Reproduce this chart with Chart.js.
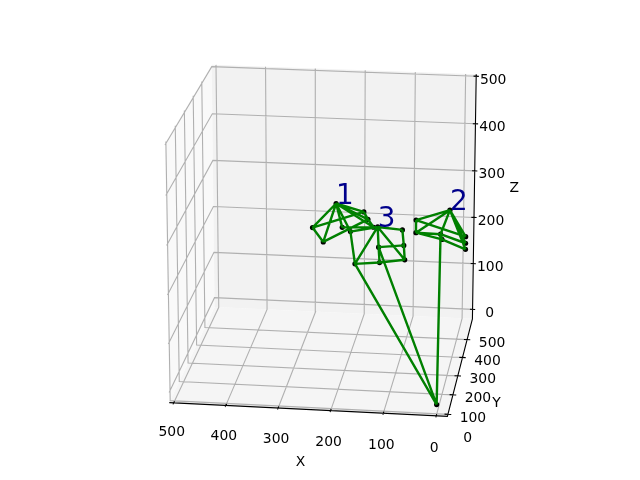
<!DOCTYPE html>
<html>
<head>
<meta charset="utf-8">
<script src="https://cdn.jsdelivr.net/npm/chart.js@4"></script>
<style>
html, body { margin: 0; padding: 0; background: #fff; }
canvas { display: block; }
</style>
</head>
<body>
<canvas id="chart" width="640" height="480"></canvas>
<script>
// Points of the three structures, last one is the common tip
const pointX = [224, 270, 249, 212, 170, 162, 151,
                143, 196, 187, 139, 90, 92, 95, 141,
                19, 86, 86, 37, 34, -13, -13, -13,
                0];
const pointY = [355, 355, 355, 355, 355, 355, 355,
                355, 355, 355, 355, 355, 355, 355, 355,
                525, 525, 525, 525, 525, 525, 525, 525,
                95];
const pointZ = [308, 256, 227, 259, 293, 278, 262,
                263, 251, 184, 189, 197, 227, 259, 221,
                246, 222, 195, 194, 183, 191, 177, 164,
                0];

// Edges between points, by index
const edgeFrom = [0, 0, 0, 0, 0, 0, 0, 1, 1, 2, 3, 4, 5,
                  7, 7, 13, 12, 11, 10, 9, 7, 7, 14, 7, 14, 9, 14,
                  15, 15, 15, 15, 15, 15, 16, 16, 17, 18, 18, 19, 17, 18];
const edgeTo   = [1, 2, 3, 4, 5, 6, 8, 2, 4, 5, 6, 5, 6,
                  8, 13, 12, 11, 10, 9, 8, 9, 14, 10, 11, 12, 23, 23,
                  16, 17, 20, 21, 22, 18, 17, 20, 18, 19, 21, 22, 19, 23];

// Numbered labels and the point each one sits on
const markLabels = ['1', '2', '3'];
const markPoints = [0, 15, 7];

const xTicks = [0, 100, 200, 300, 400, 500];
const yTicks = [100, 200, 300, 400, 500];
const yLabels = [0, 100, 200, 300, 400, 500];
const zTicks = [0, 100, 200, 300, 400, 500];

// Axis limits, x runs backwards
const xLim = [508.6, -21];
const yLim = [90, 620];
const zLim = [-21, 504];

// Camera
const rot = 7.5 * Math.PI / 180;
const elev = 19 * Math.PI / 180;
const dist = 12;
const focal = 3323;
const boxZ = 0.978;
const centerX = 326;
const centerY = 235;

function project(x, y, z) {
    const bx = (x - xLim[0]) / (xLim[1] - xLim[0]) - 0.5;
    const by = (y - yLim[0]) / (yLim[1] - yLim[0]) - 0.5;
    const bz = ((z - zLim[0]) / (zLim[1] - zLim[0]) - 0.5) * boxZ;
    const sx = bx * Math.cos(rot) + by * Math.sin(rot);
    const away = -bx * Math.sin(rot) + by * Math.cos(rot);
    const su = bz * Math.cos(elev) + away * Math.sin(elev);
    const t = -away * Math.cos(elev) + bz * Math.sin(elev);
    const k = focal / (dist - t);
    return { x: centerX + sx * k, y: centerY - su * k };
}

// Polyline pieces joined into one dataset, NaN breaks the line
function segments(pieces) {
    const out = [];
    pieces.forEach(piece => {
        piece.forEach(p => out.push(project(p[0], p[1], p[2])));
        out.push({ x: NaN, y: NaN });
    });
    return out;
}

function pane(corners, color, order) {
    return {
        data: corners.map(p => project(p[0], p[1], p[2])),
        showLine: true,
        fill: 'shape',
        backgroundColor: color,
        borderWidth: 0,
        pointRadius: 0,
        order: order
    };
}

function lines(pieces, color, width, order) {
    return {
        data: segments(pieces),
        showLine: true,
        spanGaps: false,
        fill: false,
        borderColor: color,
        borderWidth: width,
        pointRadius: 0,
        order: order
    };
}

const [x0, x1] = xLim;
const [y0, y1] = yLim;
const [z0, z1] = zLim;

const gridPieces = [];
xTicks.forEach(v => gridPieces.push([[v, y0, z0], [v, y1, z0], [v, y1, z1]]));
yTicks.forEach(v => gridPieces.push([[x1, v, z0], [x0, v, z0], [x0, v, z1]]));
zTicks.forEach(v => gridPieces.push([[x0, y0, v], [x0, y1, v], [x1, y1, v]]));

const axisPieces = [
    [[x0, y0, z0], [x1, y0, z0], [x1, y1, z0], [x1, y1, z1]]
];
const xTick = 0.015 * (y1 - y0);
const yTick = 0.012 * (x1 - x0);
const zTick = 0.01 * (x1 - x0);
xTicks.forEach(v => axisPieces.push([[v, y0 - xTick, z0], [v, y0 + xTick, z0]]));
yTicks.forEach(v => axisPieces.push([[x1 + yTick, v, z0], [x1 - yTick, v, z0]]));
zTicks.forEach(v => axisPieces.push([[x1 + zTick, y1, v], [x1 - zTick, y1, v]]));

const edgePieces = edgeFrom.map((a, i) => {
    const b = edgeTo[i];
    return [[pointX[a], pointY[a], pointZ[a]], [pointX[b], pointY[b], pointZ[b]]];
});

const textPlugin = {
    id: 'textPlugin',
    afterDatasetsDraw(chart) {
        const ctx = chart.ctx;
        const sx = chart.scales.x;
        const sy = chart.scales.y;
        const put = (text, p, dx, dy) => {
            ctx.fillText(text, sx.getPixelForValue(p.x) + dx, sy.getPixelForValue(p.y) + dy);
        };
        ctx.save();
        ctx.fillStyle = '#000';
        ctx.font = '13.9px "DejaVu Sans"';
        ctx.textAlign = 'center';
        ctx.textBaseline = 'middle';
        xTicks.forEach(v => put(String(v), project(v, y0, z0), -2, 33 - v * 0.006));
        yLabels.forEach(v => put(String(v), project(x1, v, z0), 25, 4));
        zTicks.forEach(v => put(String(v), project(x1, y1, v), 17, 4));
        put('X', project((x0 + x1) / 2, y0, z0), -7, 53);
        put('Y', project(x1, (y0 + y1) / 2, z0), 36, 38);
        put('Z', project(x1, y1, (z0 + z1) / 2), 40, -10);

        ctx.fillStyle = '#00008b';
        ctx.font = '27.8px "DejaVu Sans"';
        ctx.textAlign = 'left';
        ctx.textBaseline = 'alphabetic';
        markLabels.forEach((text, i) => {
            const n = markPoints[i];
            put(text, project(pointX[n], pointY[n], pointZ[n]), 0, 0);
        });
        ctx.restore();
    }
};

new Chart(document.getElementById('chart'), {
    type: 'scatter',
    data: {
        datasets: [
            pane([[x0, y1, z0], [x1, y1, z0], [x1, y1, z1], [x0, y1, z1]], '#f2f2f2', 10),
            pane([[x0, y0, z0], [x0, y1, z0], [x0, y1, z1], [x0, y0, z1]], '#f9f9f9', 10),
            pane([[x0, y0, z0], [x1, y0, z0], [x1, y1, z0], [x0, y1, z0]], '#f5f5f5', 10),
            lines(gridPieces, '#b0b0b0', 1.1, 9),
            lines(axisPieces, '#000', 1.1, 8),
            {
                data: pointX.map((v, i) => project(v, pointY[i], pointZ[i])),
                showLine: false,
                pointRadius: 2.6,
                pointBackgroundColor: '#000',
                pointBorderWidth: 0,
                order: 7
            },
            lines(edgePieces, '#008000', 2.4, 6)
        ]
    },
    options: {
        responsive: false,
        animation: false,
        layout: { padding: 0 },
        plugins: { legend: { display: false }, tooltip: { enabled: false } },
        scales: {
            x: { type: 'linear', min: 0, max: 640, display: false },
            y: { type: 'linear', min: 0, max: 480, reverse: true, display: false }
        }
    },
    plugins: [textPlugin]
});
</script>
</body>
</html>
